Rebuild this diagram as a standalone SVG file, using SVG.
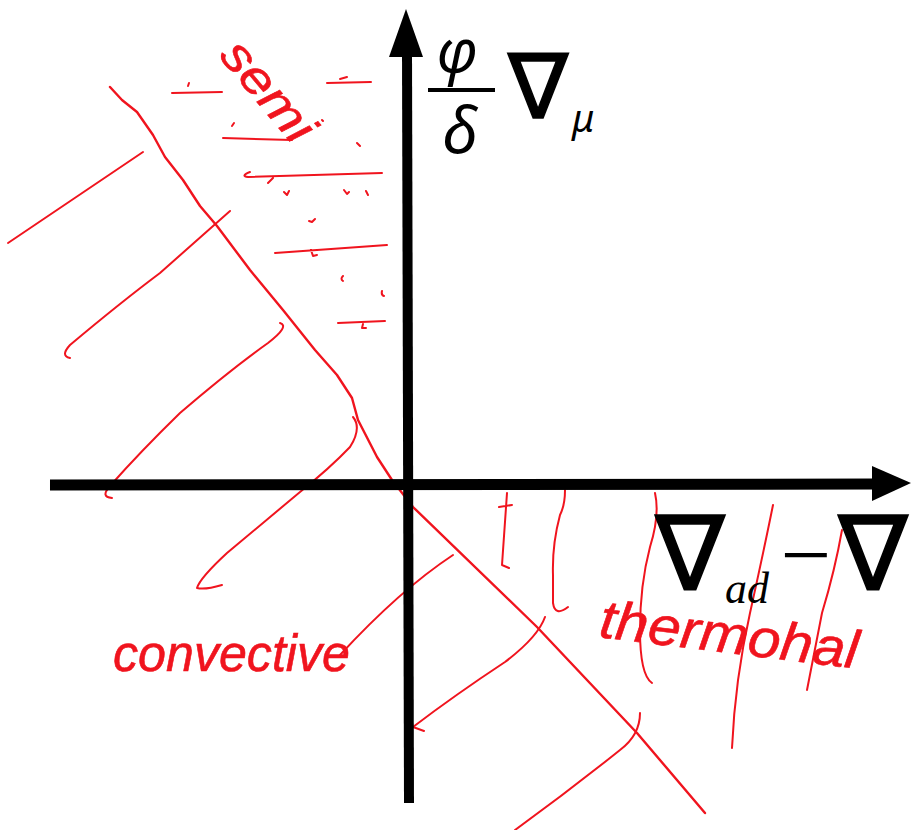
<svg xmlns="http://www.w3.org/2000/svg" width="911" height="830" viewBox="0 0 911 830">
<style>
.ax{stroke:#000;stroke-width:10;fill:none}
.ah{fill:#000}
.r{stroke:#f0141e;stroke-width:2;fill:none;stroke-linecap:round;stroke-linejoin:round}
.rb{stroke:#f0141e;stroke-width:2.4;fill:none;stroke-linecap:round;stroke-linejoin:round}
.hw{font-family:"Liberation Sans","DejaVu Sans",sans-serif;font-style:italic;fill:#f0141e;stroke:#f0141e;stroke-width:0.6}
.gk{font-family:"Noto Sans","DejaVu Sans",sans-serif;font-style:italic;fill:#000}
.nb{font-family:"DejaVu Sans",sans-serif;font-weight:normal;fill:#000;stroke:#000;stroke-width:1.5}
.tm{font-family:"Liberation Serif","Times New Roman",serif;font-style:italic;fill:#000}
</style>
<rect width="911" height="830" fill="#fff"/>
<g id="red-strokes">
<path class="rb" d="M110 87 L122 100 L137 112 L153 135 L165 157 L183 180 L200 206 L217 226 L250 270 L283 310 L315 350 L337 375 L352 398 L358 420 L377 457 L392 480 L413 507 L537 627 L637 733 L705 813"/>
<path class="r" d="M8 243 L143 152"/>
<path class="r" d="M70 358 Q60 356 70 345 Q120 303 160 273 L230 211"/>
<path class="r" d="M112 498 Q100 497 110 486 Q140 452 180 413 Q230 370 268 343 Q290 326 280 323"/>
<path class="r" d="M353 417 Q362 428 350 447 Q330 468 300 492 L227 553 Q200 578 197 588 Q205 590 222 585"/>
<path class="r" d="M453 555 Q400 590 340 655"/>
<path class="r" d="M545 617 Q538 637 505 662 Q455 695 413 727 L424 731"/>
<path class="r" d="M640 713 Q640 735 620 750 Q570 790 515 830"/>
<path class="r" d="M507 493 L502 565 L509 568 M499 507 L512 505"/>
<path class="r" d="M565 490 Q565 505 560 515 Q552 545 553 575 L553 603 Q555 617 568 607"/>
<path class="r" d="M655 493 Q660 515 650 547 Q640 585 640 630 Q640 675 652 683"/>
<path class="r" d="M773 505 Q765 545 750 613 Q735 680 732 748"/>
<path class="r" d="M842 530 Q835 570 822 613 L807 690"/>
<path class="r" d="M327 83 L371 82 M340 79 L347 77"/>
<path class="r" d="M172 93 L222 92 M188 86 L189 83"/>
<path class="r" d="M223 138 L292 140 M232 126 L234 123"/>
<path class="r" d="M250 172 Q240 176 248 177 L382 173 M268 183 L273 178"/>
<path class="r" d="M275 253 L387 245 M311 250 L313 256 L317 255"/>
<path class="r" d="M338 323 L385 321 M363 324 L362 328 L366 328"/>
<path class="r" d="M357 143 L360 146 M284 192 L287 195 L289 191 M344 190 L347 194 L349 192 M366 191 L368 195 M309 221 L312 222 L315 219 M343 276 Q340 279 343 281 M382 291 Q381 295 384 296 M322 120 L323 121"/>
</g>
<g id="labels-hand">
<text class="hw" x="218" y="56" font-size="48" textLength="118" lengthAdjust="spacingAndGlyphs" transform="rotate(50 218 56)">semi</text>
<text class="hw" x="113" y="671" font-size="52" textLength="237" lengthAdjust="spacingAndGlyphs">convective</text>
<text class="hw" x="598" y="637" font-size="54" textLength="260" lengthAdjust="spacingAndGlyphs" transform="rotate(7 598 637)">thermohal</text>
</g>
<g id="axes">
<line class="ax" x1="407" y1="50" x2="409" y2="803"/>
<polygon class="ah" points="406,9 423,57 389,57"/>
<line class="ax" x1="50" y1="485" x2="875" y2="484" style="stroke-width:11"/>
<polygon class="ah" points="911,483 872,466 872,501"/>
</g>
<g id="y-label">
<text class="gk" x="457" y="72" font-size="60" text-anchor="middle">φ</text>
<line x1="428" y1="90" x2="495" y2="90" stroke="#000" stroke-width="4"/>
<text class="gk" x="460" y="153" font-size="64" text-anchor="middle">δ</text>
<text class="nb" x="538" y="118" font-size="90" text-anchor="middle">∇</text>
<text class="gk" x="572" y="132" font-size="38">μ</text>
</g>
<g id="x-label">
<text class="nb" x="690" y="590" font-size="104" text-anchor="middle">∇</text>
<text class="tm" x="725" y="603" font-size="44">ad</text>
<text class="tm" x="805" y="585" font-size="90" text-anchor="middle">−</text>
<text class="nb" x="873" y="590" font-size="104" text-anchor="middle">∇</text>
</g>
</svg>
